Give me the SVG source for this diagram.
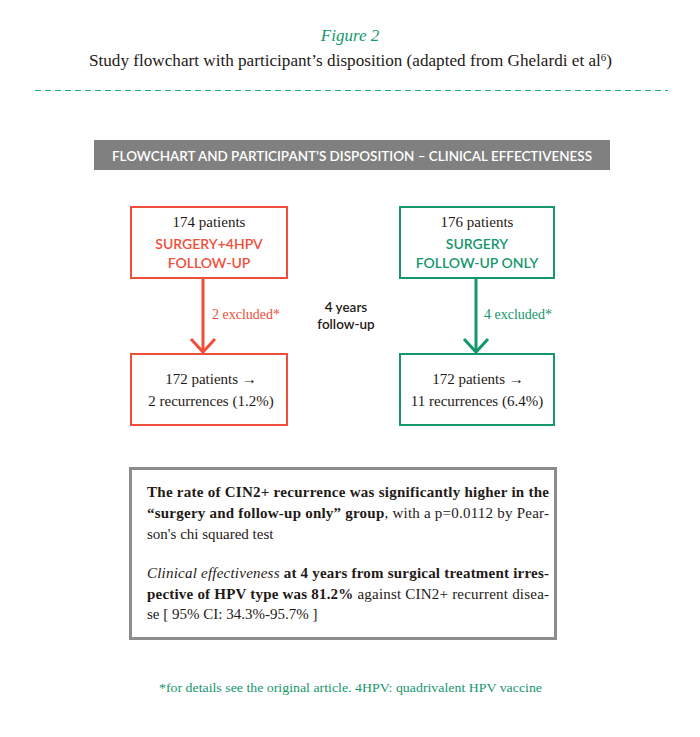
<svg xmlns="http://www.w3.org/2000/svg" width="700" height="737" viewBox="0 0 700 737">
<defs>
<style>
.serif{font-family:"Liberation Serif","DejaVu Serif",serif;}
.sans{font-family:"Lato","Open Sans","Liberation Sans",sans-serif;}
.red{fill:#f04e3a;}
.grn{fill:#14976c;}
.dark{fill:#1f1a17;}
.boxr{fill:#fff;stroke:#f04e3a;stroke-width:2;}
.boxg{fill:#fff;stroke:#14976c;stroke-width:2;}
.b{font-weight:bold;}
</style>
</defs>
<rect x="0" y="0" width="700" height="737" fill="#fff"/>
<g id="title">
<text x="350" y="41" text-anchor="middle" class="serif grn" font-style="italic" font-size="17">Figure 2</text>
<text x="89" y="66" class="serif dark" font-size="16.5" textLength="523" lengthAdjust="spacingAndGlyphs">Study flowchart with participant’s disposition (adapted from Ghelardi et al<tspan font-size="10.5" dy="-5">6</tspan><tspan dy="5">)</tspan></text>
<line x1="35" y1="90.5" x2="668" y2="90.5" stroke="#1aae7e" stroke-width="1.2" stroke-dasharray="6,4"/>
</g>
<g id="header">
<rect x="94" y="140" width="516" height="30" fill="#808080"/>
<text x="352" y="161" text-anchor="middle" class="sans" fill="#fff" font-size="14" font-weight="600" textLength="480" lengthAdjust="spacingAndGlyphs">FLOWCHART AND PARTICIPANT’S DISPOSITION – CLINICAL EFFECTIVENESS</text>
</g>
<g id="connectors">
<g stroke="#f04e3a" stroke-width="3" fill="none">
<line x1="203" y1="278" x2="203" y2="352"/>
<polyline points="191,339 203,352 215,339"/>
</g>
<g stroke="#14976c" stroke-width="3" fill="none">
<line x1="476" y1="278" x2="476" y2="352"/>
<polyline points="464,339 476,352 488,339"/>
</g>
<text x="212" y="319" class="serif red" font-size="14">2 excluded*</text>
<text x="484" y="319" class="serif grn" font-size="14">4 excluded*</text>
<text x="346" y="312" text-anchor="middle" class="sans dark" font-size="13.5" font-weight="600">4 years</text>
<text x="346" y="329" text-anchor="middle" class="sans dark" font-size="13.5" font-weight="600">follow-up</text>
</g>
<g id="node-surgery-4hpv">
<rect x="131" y="207" width="156" height="71" class="boxr"/>
<text x="209" y="227" text-anchor="middle" class="serif dark" font-size="15">174 patients</text>
<text x="209" y="249" text-anchor="middle" class="sans red" font-size="14" font-weight="600">SURGERY+4HPV</text>
<text x="209" y="268" text-anchor="middle" class="sans red" font-size="14" font-weight="600">FOLLOW-UP</text>
</g>
<g id="node-surgery-only">
<rect x="400" y="207" width="154" height="71" class="boxg"/>
<text x="477" y="227" text-anchor="middle" class="serif dark" font-size="15">176 patients</text>
<text x="477" y="249" text-anchor="middle" class="sans grn" font-size="14" font-weight="600">SURGERY</text>
<text x="477" y="268" text-anchor="middle" class="sans grn" font-size="14" font-weight="600">FOLLOW-UP ONLY</text>
</g>
<g id="node-result-4hpv">
<rect x="131" y="354" width="156" height="71" class="boxr"/>
<text x="211" y="384" text-anchor="middle" class="serif dark" font-size="15">172 patients →</text>
<text x="211" y="406" text-anchor="middle" class="serif dark" font-size="15">2 recurrences (1.2%)</text>
</g>
<g id="node-result-only">
<rect x="400" y="354" width="154" height="71" class="boxg"/>
<text x="478" y="384" text-anchor="middle" class="serif dark" font-size="15">172 patients →</text>
<text x="477" y="406" text-anchor="middle" class="serif dark" font-size="15">11 recurrences (6.4%)</text>
</g>
<g id="summary">
<rect x="130.5" y="468.5" width="425" height="170" fill="#fff" stroke="#8c8c8c" stroke-width="3"/>
<g class="serif dark" font-size="15">
<text x="147" y="497" textLength="402" lengthAdjust="spacing"><tspan class="b">The rate of CIN2+ recurrence was significantly higher in the</tspan></text>
<text x="147" y="518" textLength="402" lengthAdjust="spacing"><tspan class="b">“surgery and follow-up only” group</tspan>, with a p=0.0112 by Pear-</text>
<text x="147" y="539">son's chi squared test</text>
<text x="147" y="578" textLength="402" lengthAdjust="spacing"><tspan font-style="italic">Clinical effectiveness</tspan><tspan class="b"> at 4 years from surgical treatment irres-</tspan></text>
<text x="147" y="599" textLength="402" lengthAdjust="spacing"><tspan class="b">pective of HPV type was 81.2%</tspan> against CIN2+ recurrent disea-</text>
<text x="147" y="619">se [ 95% CI: 34.3%-95.7% ]</text>
</g>
</g>
<g id="footnote">
<text x="159" y="692" class="serif grn" font-size="13.5" textLength="383" lengthAdjust="spacingAndGlyphs">*for details see the original article. 4HPV: quadrivalent HPV vaccine</text>
</g>
</svg>
